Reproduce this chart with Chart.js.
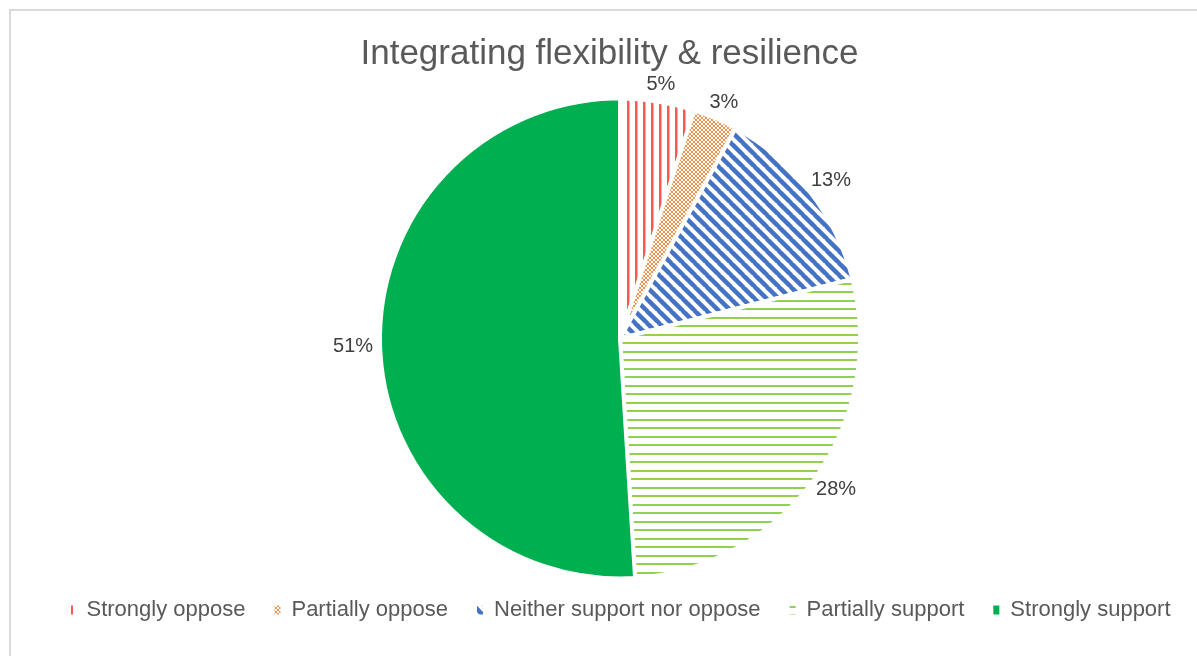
<!DOCTYPE html>
<html>
<head>
<meta charset="utf-8">
<script src="https://cdn.jsdelivr.net/npm/chart.js@4.4.1/dist/chart.umd.min.js"></script>
<style>
  html, body { margin: 0; padding: 0; background: #fff; overflow: hidden; width: 1197px; height: 656px; }
  #frame { position: absolute; left: 9px; top: 9px; width: 1300px; height: 800px;
           border-left: 2px solid #D9D9D9; border-top: 2px solid #D9D9D9; }
  #chart { position: absolute; left: 11px; top: 11px; }
</style>
</head>
<body>
<div id="frame"></div>
<canvas id="chart" width="1218" height="645"></canvas>
<script>
const categories = ['Strongly oppose', 'Partially oppose', 'Neither support nor oppose', 'Partially support', 'Strongly support'];
const shares = [5, 3, 13, 28, 51];
const shareLabels = ['5%', '3%', '13%', '28%', '51%'];

const FONT = '"Liberation Sans", Arial, sans-serif';
const canvas = document.getElementById('chart');
const ctx = canvas.getContext('2d');

// small repeating tiles to imitate the Excel pattern fills
function makePattern(w, h, draw) {
  const c = document.createElement('canvas');
  c.width = w;
  c.height = h;
  const g = c.getContext('2d');
  draw(g, w, h);
  return ctx.createPattern(c, 'repeat');
}

const redLines = makePattern(8, 1, g => {
  g.fillStyle = '#FF5555';
  g.fillRect(0, 0, 2.5, 1);
});
// tighter version for the tiny legend box so one stroke always shows
const redLinesKey = makePattern(6, 1, g => {
  g.fillStyle = '#FF5555';
  g.fillRect(0, 0, 2, 1);
});

const orangeDots = makePattern(4, 4, g => {
  g.fillStyle = '#F0914B';
  g.fillRect(0, 0, 2, 2);
  g.fillRect(2, 2, 2, 2);
});

const blueDiag = makePattern(12, 12, g => {
  g.strokeStyle = '#4472C4';
  g.lineWidth = 4.5;
  [-12, 0, 12].forEach(k => {
    g.beginPath();
    g.moveTo(k - 1, -1);
    g.lineTo(k + 13, 13);
    g.stroke();
  });
});

const greenLines = makePattern(1, 17, g => {
  g.fillStyle = '#92D050';
  g.fillRect(0, 0, 1, 2);
  g.fillRect(0, 8, 1, 2);
});

const fills = [redLines, orangeDots, blueDiag, greenLines, '#00B050'];
const keyFills = [redLinesKey, orangeDots, blueDiag, greenLines, '#00B050'];

// percentage labels just outside each slice
const outsideLabels = {
  id: 'outsideLabels',
  afterLayout(chart) {
    // the source title sits a little left of the pie centre
    chart.titleBlock.right -= 21;
    chart.titleBlock.width -= 21;
  },
  afterDatasetsDraw(chart) {
    const c = chart.ctx;
    const meta = chart.getDatasetMeta(0);
    c.save();
    c.font = '20px ' + FONT;
    c.fillStyle = '#404040';
    c.textAlign = 'center';
    c.textBaseline = 'middle';
    meta.data.forEach((arc, i) => {
      const p = arc.getProps(['x', 'y', 'startAngle', 'endAngle', 'outerRadius'], true);
      const mid = (p.startAngle + p.endAngle) / 2;
      const dx = Math.cos(mid), dy = Math.sin(mid);
      const text = shareLabels[i];
      const w = c.measureText(text).width;
      const h = 20;
      const r = p.outerRadius + 7;
      c.fillText(text, p.x + dx * r + dx * w / 2, p.y + dy * r + dy * h / 2);
    });
    c.restore();
  }
};

new Chart(ctx, {
  type: 'pie',
  data: {
    labels: categories,
    datasets: [{
      data: shares,
      backgroundColor: fills,
      borderColor: '#ffffff',
      borderWidth: 4,
      radius: 240
    }]
  },
  options: {
    responsive: false,
    animation: false,
    devicePixelRatio: 1,
    layout: { padding: { top: 0, bottom: 25, left: 0, right: 0 } },
    plugins: {
      tooltip: { enabled: false },
      title: {
        display: true,
        text: 'Integrating flexibility & resilience',
        color: '#595959',
        font: { family: FONT, size: 35, weight: 'normal' },
        padding: { top: 22, bottom: 32 }
      },
      legend: {
        position: 'bottom',
        labels: {
          color: '#595959',
          font: { family: FONT, size: 22 },
          boxWidth: 6,
          boxHeight: 9,
          padding: 29,
          generateLabels(chart) {
            const items = Chart.overrides.pie.plugins.legend.labels.generateLabels(chart);
            items.forEach((it, i) => {
              it.fillStyle = keyFills[i];
              it.lineWidth = 0;
              it.strokeStyle = 'rgba(0,0,0,0)';
            });
            return items;
          }
        }
      }
    }
  },
  plugins: [outsideLabels]
});
</script>
</body>
</html>
